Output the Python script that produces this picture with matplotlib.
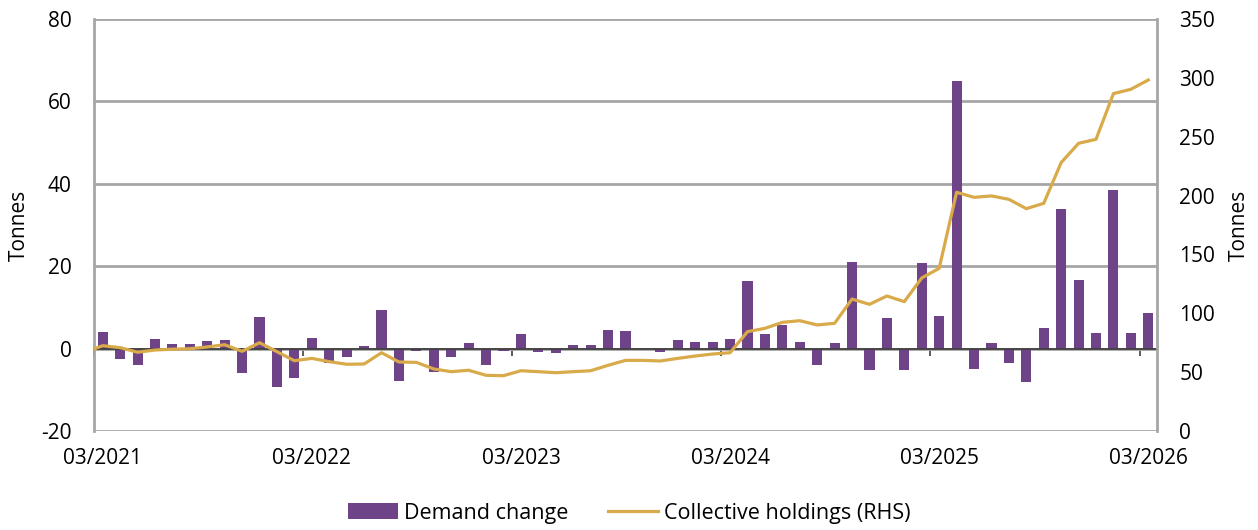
import matplotlib
matplotlib.use("Agg")
import matplotlib.pyplot as plt
import numpy as np

plt.rcParams['font.family'] = ['Open Sans', 'DejaVu Sans']

# Months 03/2021 .. 03/2026 (61 categories)
months = [f"{m:02d}/{y}" for y in range(2021, 2027) for m in range(1, 13)]
months = months[months.index("03/2021"):months.index("03/2026") + 1]

demand_change = [4.1, -2.5, -4.0, 2.3, 1.2, 1.1, 1.8, 2.1, -6.0, 7.7,
                 -9.2, -7.2, 2.6, -3.4, -2.0, 0.7, 9.3, -7.9, -0.7, -5.8,
                 -2.0, 1.3, -4.1, -0.7, 3.5, -0.9, -1.0, 0.9, 0.9, 4.6,
                 4.3, 0.0, -0.8, 2.2, 1.7, 1.7, 2.4, 16.5, 3.5, 5.8,
                 1.5, -4.0, 1.3, 21.0, -5.2, 7.5, -5.1, 20.7, 7.8, 64.9,
                 -5.0, 1.3, -3.5, -8.2, 5.0, 34.0, 16.6, 3.9, 38.5, 3.7, 8.6]

# Collective holdings: first value is 02/2021 (lies just left of the plot area)
holdings = [66.9,
            72.5, 70.8, 66.9, 68.8, 69.5, 69.9, 71.4, 73.3, 67.7, 75.0,
            67.4, 59.7, 61.7, 58.9, 56.7, 56.9, 66.5, 58.6, 58.3, 52.7,
            50.4, 51.6, 47.3, 47.0, 51.2, 50.4, 49.5, 50.4, 51.2, 55.8,
            60.0, 60.0, 59.5, 61.7, 63.7, 65.4, 66.5, 84.4, 87.2, 92.3,
            93.7, 90.1, 91.5, 112.1, 107.6, 114.7, 109.9, 130.0, 138.2, 202.8,
            198.5, 199.7, 196.8, 188.9, 193.4, 228.0, 244.4, 247.8, 286.6, 290.3,
            298.2]

tick_labels = ["03/2021", "03/2022", "03/2023", "03/2024", "03/2025", "03/2026"]

PURPLE = "#6F4387"
GOLD = "#D9AA4A"
GRID = "#A6A6A6"
TICK_FS = 15

fig = plt.figure(figsize=(12.58, 5.30), dpi=100)
ax = fig.add_axes([94/1258, 1 - 431/530, (1157-94)/1258, (431-19)/530])

x = np.arange(len(demand_change))
ax.bar(x, demand_change, width=0.58, color=PURPLE, zorder=2, label="Demand change")

ax.set_xlim(-0.5, len(demand_change) - 0.5)
ax.set_ylim(-20, 80)
ax.set_yticks([-20, 0, 20, 40, 60, 80])
ax.set_yticklabels(["-20", "0", "20", "40", "60", "80"])
ax.yaxis.grid(True, color=GRID, linewidth=2, zorder=0)
ax.set_axisbelow(True)

tick_pos = [months.index(t) for t in tick_labels]
ax.set_xticks(tick_pos)
ax.set_xticklabels(tick_labels)
ax.tick_params(axis='x', length=0, pad=12, labelsize=TICK_FS)
ax.tick_params(axis='y', length=0, pad=16, labelsize=TICK_FS)

for s in ['top', 'bottom']:
    ax.spines[s].set_visible(False)
ax.spines['left'].set_color(GRID)
ax.spines['left'].set_linewidth(2)
ax.spines['right'].set_visible(False)

# category axis line at zero with tick marks between categories
ax.axhline(0, color="#404040", linewidth=1.3, zorder=3)
sec = ax.secondary_xaxis(0.2)
sec.set_xticks([p - 0.5 for p in tick_pos])
sec.set_xticklabels([])
sec.tick_params(axis='x', length=5, width=1.2, color="#404040", direction='out')
sec.spines['bottom'].set_visible(False)

ax.set_ylabel("Tonnes", fontsize=TICK_FS, ha='center', va='center')
ax.yaxis.set_label_coords(-(94 - 19) / (1157 - 94), 0.5)

ax2 = ax.twinx()
xl = np.arange(-1, len(holdings) - 1)
ax2.plot(xl, holdings, color=GOLD, linewidth=2.3, zorder=4,
         label="Collective holdings (RHS)")
ax2.set_ylim(0, 350)
ax2.set_yticks(range(0, 351, 50))
ax2.tick_params(axis='y', length=0, pad=16, labelsize=TICK_FS)
ax2.set_xlim(-0.5, len(demand_change) - 0.5)
for s in ['top', 'bottom', 'left']:
    ax2.spines[s].set_visible(False)
ax2.spines['right'].set_color(GRID)
ax2.spines['right'].set_linewidth(2)
ax2.set_ylabel("Tonnes", fontsize=TICK_FS, rotation=90, ha='center', va='center')
ax2.yaxis.set_label_coords(1 + (1239 - 1157) / (1157 - 94), 0.5)

h1, l1 = ax.get_legend_handles_labels()
h2, l2 = ax2.get_legend_handles_labels()
fig.legend(h1 + h2, l1 + l2, loc='center', bbox_to_anchor=(0.5, 1 - 513/530),
           ncol=2, frameon=False, fontsize=15.5, handlelength=2.35,
           handleheight=0.72, handletextpad=0.25, columnspacing=1.85)

fig.savefig("out.png", dpi=100)
